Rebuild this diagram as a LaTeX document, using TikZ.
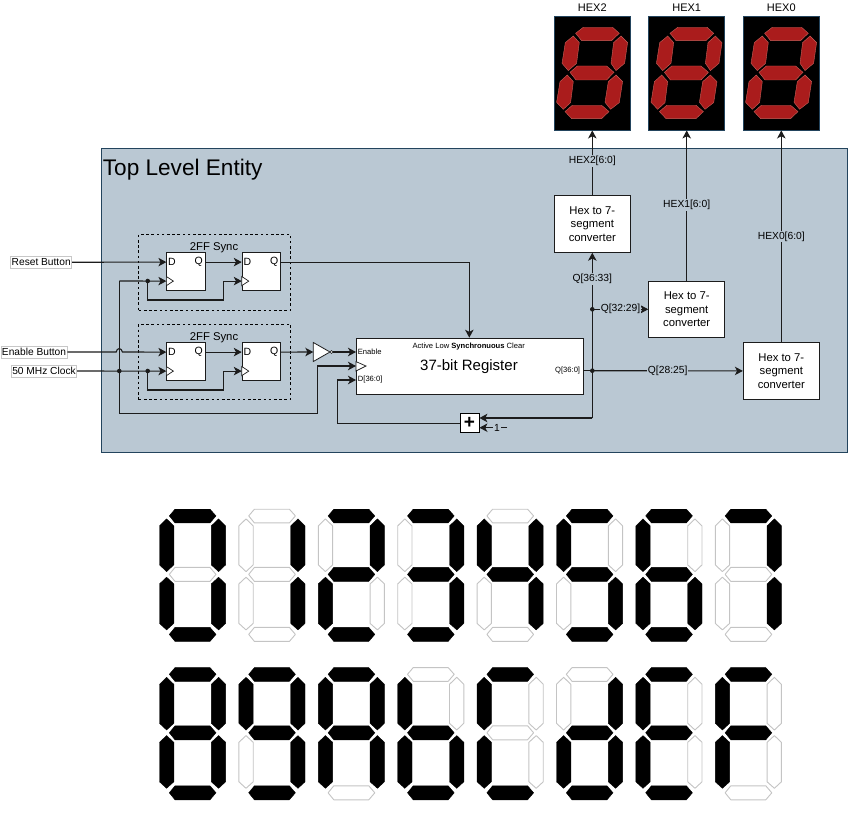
\documentclass[tikz,border=0pt]{standalone}
\usepackage{fontspec}
\setmainfont{Liberation Sans}
\definecolor{panelblue}{HTML}{BAC8D3}
\definecolor{paneledge}{HTML}{23445D}
\definecolor{wirecol}{HTML}{1C1C1C}
\definecolor{ledred}{HTML}{AA1C1C}
\definecolor{ledlight}{HTML}{C8605A}
\definecolor{offgray}{HTML}{C4C4C4}
\usetikzlibrary{arrows.meta, calc, positioning}

\tikzset{
	sig/.style={draw=wirecol, line width=1.1pt, -{Stealth[length=8pt,width=8.5pt,inset=2.2pt]}},
	wire/.style={draw=wirecol, line width=1.1pt},
	dashbox/.style={draw=black, line width=0.8pt, dash pattern=on 2.6pt off 2.6pt},
	ffbox/.style={draw=wirecol, fill=white, line width=0.8pt, minimum width=38.3pt, minimum height=38pt, inner sep=0pt},
	clktri/.style={draw=wirecol, fill=white, line width=0.7pt},
	inputlbl/.style={draw=black!22, fill=white, line width=0.7pt, inner sep=1pt, minimum height=12pt, font=\fontsize{10.2}{12}\selectfont},
	wirelbl/.style={fill=panelblue, inner sep=0.8pt, font=\fontsize{10.3}{12}\selectfont},
	pinlbl/.style={inner sep=0pt, font=\fontsize{7.6}{9}\selectfont},
	conv/.style={draw=wirecol, fill=white, line width=0.9pt, minimum width=76pt, minimum height=56.6pt, inner sep=0pt, align=center, font=\fontsize{11.3}{13.7}\selectfont},
	dispbox/.style={draw=paneledge, fill=black, line width=0.8pt, minimum width=76pt, minimum height=113.7pt, inner sep=0pt},
	seg0/.style={draw=offgray, fill=white, line width=0.9pt, line join=round},
	seg1/.style={fill=black},
	ledseg/.style={draw=ledlight, fill=ledred, line width=0.4pt}
}

% white digit segments, left top of digit at (0,0)
\def\sega{(10,7) -- (15.7,0.3) -- (50.7,0.3) -- (56.7,7) -- (50.7,14) -- (15.7,14) -- cycle}
\def\segb{(59.3,10) -- (66.3,17) -- (66.3,56) -- (59.3,62.7) -- (52,56) -- (52,17) -- cycle}
\def\segc{(59.3,68.3) -- (66.3,75) -- (66.3,114.5) -- (59.3,121) -- (52,114.5) -- (52,75) -- cycle}
\def\segd{(10,125.5) -- (15.7,118.5) -- (50.7,118.5) -- (56.7,125.5) -- (50.7,132.5) -- (15.7,132.5) -- cycle}
\def\sege{(7.3,68.3) -- (14.5,75) -- (14.5,114.5) -- (7.3,121) -- (0.2,114.5) -- (0.2,75) -- cycle}
\def\segf{(7.3,10) -- (14.5,17) -- (14.5,56) -- (7.3,62.7) -- (0.2,56) -- (0.2,17) -- cycle}
\def\segg{(10,65.5) -- (15.7,58.5) -- (50.7,58.5) -- (56.7,65.5) -- (50.7,72.5) -- (15.7,72.5) -- cycle}

\begin{document}
\begin{tikzpicture}[x=1pt, y=-1pt]
	\useasboundingbox (0,0) rectangle (857,813);

	% Panel
	\node[draw=paneledge, fill=panelblue, line width=0.8pt, anchor=north west, minimum width=746.5pt, minimum height=303.2pt, inner sep=0pt] (entity) at (100.5,148.5) {};
	\node[anchor=west, inner sep=0pt, font=\fontsize{22.6}{26}\selectfont] (entitytitle) at (102.7,169.5) {Top Level Entity};

	% Sync blocks
	\foreach \nm/\yy/\ly in {syncrst/234/247.5, syncen/323.5/337.5}
	{
		\node[dashbox, anchor=north west, minimum width=151.7pt, minimum height=75.8pt, inner sep=0pt] (\nm) at (138.3,\yy) {};
		\node[inner sep=0pt, font=\fontsize{11.3}{13}\selectfont] (\nm lbl) at (214,\ly) {2FF Sync};
	}

	% Flip flops
	\foreach \nm/\xx/\yy in {ffa/185.9/271.7, ffb/261.3/271.7, ffc/185.9/361.7, ffd/261.3/361.7}
	{
		\node[ffbox] (\nm) at (\xx,\yy) {};
		\coordinate (\nm d) at ($(\nm.west)+(0,-9.6)$);
		\coordinate (\nm q) at ($(\nm.east)+(0,-9.6)$);
		\coordinate (\nm c) at ($(\nm.west)+(0,9.4)$);
		\draw[clktri] ($(\nm c)+(0,-4.6)$) -- ($(\nm c)+(7,0)$) -- ($(\nm c)+(0,4.6)$) -- cycle;
		\node[anchor=west, inner sep=0pt, font=\fontsize{10.5}{12}\selectfont] (\nm dl) at ($(\nm d)+(1.6,-0.5)$) {D};
		\node[anchor=east, inner sep=0pt, font=\fontsize{10.5}{12}\selectfont] (\nm ql) at ($(\nm q)+(-2.4,-0.5)$) {Q};
	}

	% Register and adder
	\node[draw=wirecol, fill=white, line width=0.9pt, anchor=north west, minimum width=226.7pt, minimum height=56.6pt, inner sep=0pt] (reg) at (356,337.7) {};
	\node[inner sep=0pt, font=\fontsize{15}{18}\selectfont] (regname) at (469,367) {37-bit Register};
	\node[inner sep=0pt, font=\fontsize{7.6}{9}\selectfont] (regclear) at (468.7,346.5) {Active Low \textbf{Synchronuous} Clear};
	\node[pinlbl, anchor=west] (regen) at (357.7,352) {Enable};
	\node[pinlbl, anchor=west] (regd) at (357.7,380) {D[36:0]};
	\node[pinlbl, anchor=east] (regq) at (580.3,371) {Q[36:0]};
	\coordinate (regenpin) at (reg.west |- regen);
	\coordinate (regdpin) at (reg.west |- regd);
	\coordinate (regclkpin) at (356,366);
	\draw[clktri] (356,361.6) -- (366,366) -- (356,371) -- cycle;
	\node[draw=black, fill=white, line width=0.9pt, minimum size=19pt, inner sep=0pt, font=\bfseries\fontsize{19}{19}\selectfont] (adder) at (469.5,423.2) {+};

	% Inverter
	\coordinate (invin) at (313.3,352);
	\draw[clktri, line width=0.8pt] (invin) ++(0,-9.5) -- (330,352) -- (313.3,361.5) -- cycle;
	\node[draw=wirecol, fill=white, circle, inner sep=0pt, minimum size=3pt, line width=0.5pt] (invbub) at (331.4,352) {};

	% Input buttons
	\node[inputlbl] (btnreset) at (41.2,262.3) {Reset Button};
	\node[inputlbl] (btnenable) at (34,352) {Enable Button};
	\node[inputlbl] (btnclock) at (44,371) {50 MHz Clock};

	% Converters and displays
	\foreach \nm/\xx/\yy/\ly in {2/592.3/224/161, 1/686.7/309.3/205, 0/781.3/371/236.7}
	{
		\node[conv] (conv\nm) at (\xx,\yy) {Hex to 7-\\segment\\converter};
		\node[dispbox] (disp\nm) at (\xx,73.2) {};
		\node[inner sep=0pt, font=\fontsize{11}{13}\selectfont] (name\nm) at (\xx,7.5) {HEX\nm};
		\draw[sig] (conv\nm) -- (disp\nm);
		\node[wirelbl] (hexlbl\nm) at (\xx,\ly) {HEX\nm[6:0]};
		\begin{scope}[shift={(\xx-38,16.3)}]
			\path[ledseg] (21.3,17) -- (29,11) -- (58.3,11) -- (65,17) -- (57.3,24.3) -- (27.3,24.3) -- cycle;
			\path[ledseg] (66.7,19.7) -- (73.3,26.3) -- (70.3,47) -- (61.7,54.3) -- (56.7,47) -- (59.3,26.3) -- cycle;
			\path[ledseg] (19,19.7) -- (25,26.3) -- (22.3,47) -- (14,54.3) -- (7.7,47) -- (11,26.3) -- cycle;
			\path[ledseg] (15.7,56) -- (23,49.7) -- (52.3,49.7) -- (59.7,56) -- (52.3,63.7) -- (21.7,63.7) -- cycle;
			\path[ledseg] (13,58.7) -- (19,65.3) -- (16.3,86.3) -- (9,93) -- (2.3,86) -- (5.7,65.3) -- cycle;
			\path[ledseg] (61.7,58.7) -- (68.3,65.3) -- (65,86.3) -- (56.3,93) -- (50.7,86) -- (54,65.3) -- cycle;
			\path[ledseg] (10.7,95.3) -- (18,89) -- (47.3,89) -- (54.7,95.3) -- (47.3,102.3) -- (17.3,102.3) -- cycle;
		\end{scope}
	}

	% Junctions
	\coordinate (jclktop) at (119.3,281);
	\coordinate (jclkmain) at (119.3,371);
	\coordinate (jclkrst) at (147.7,281);
	\coordinate (jclken) at (147.7,371);
	\coordinate (jclkbot) at (119.3,413.3);
	\coordinate (jq) at (592.3,370.7);
	\coordinate (jqmid) at (592.3,309.3);
	\coordinate (jadd) at (592.3,418);

	% Reset path
	\draw[sig] (btnreset) -- (ffad);
	\draw[sig] (ffaq) -- (ffbd);
	\draw[sig] (ffbq) -| (reg.north -| 469.3,0);
	\draw[sig] (jclktop) -- (ffac);
	\draw[sig] (jclkrst) -- (147.7,300) -- (223.3,300) |- (ffbc);

	% Enable path
	\draw[sig] (btnenable) -- (116.2,352) .. controls (116.8,347.5) and (121.6,347.5) .. (122.4,352) -- (ffcd);
	\draw[sig] (ffcq) -- (ffdd);
	\draw[sig] (ffdq) -- (invin);
	\draw[sig] (invbub) -- (regenpin);
	\draw[sig] (btnclock) -- (ffcc);
	\draw[sig] (jclken) -- (147.7,390) -- (223.3,390) |- (ffdc);

	% Clock to register
	\draw[sig] (jclktop) -- (jclkbot) -- (317.7,413.3) |- (regclkpin);

	% Count loop
	\draw[wire] (reg.east |- jq) -- (jq);
	\draw[sig] (jadd) -- (conv2);
	\draw[sig] (jadd) -- (adder.east |- jadd);
	\draw[sig] (adder.west) -- (337.3,423.2) |- (regdpin);
	\coordinate (oneend) at (507,427.7);
	\draw[sig] (oneend) -- (adder.east |- oneend);
	\node[fill=panelblue, inner sep=1pt, font=\fontsize{10.3}{12}\selectfont] (onelbl) at (497,427.7) {1};
	\draw[sig] (jqmid) -- (conv1);
	\draw[sig] (jq) -- (conv0);
	\node[wirelbl] (qlbla) at (592.3,279) {Q[36:33]};
	\node[wirelbl] (qlblb) at (620.5,309.3) {Q[32:29]};
	\node[wirelbl] (qlblc) at (667.7,370.7) {Q[28:25]};

	\foreach \jn in {jclkmain,jclkrst,jclken,jq,jqmid}
		\fill[wirecol] (\jn) circle (2.3);

	% Digit table
	\foreach \rw/\cl/\a/\b/\c/\d/\e/\f/\g in {
		0/0/1/1/1/1/1/1/0, 0/1/0/1/1/0/0/0/0, 0/2/1/1/0/1/1/0/1, 0/3/1/1/1/1/0/0/1,
		0/4/0/1/1/0/0/1/1, 0/5/1/0/1/1/0/1/1, 0/6/1/0/1/1/1/1/1, 0/7/1/1/1/0/0/0/0,
		1/0/1/1/1/1/1/1/1, 1/1/1/1/1/1/0/1/1, 1/2/1/1/1/0/1/1/1, 1/3/0/0/1/1/1/1/1,
		1/4/1/0/0/1/1/1/0, 1/5/0/1/1/1/1/0/1, 1/6/1/0/0/1/1/1/1, 1/7/1/0/0/0/1/1/1}
	{
		\begin{scope}[shift={(159.3+79.4*\cl,508.9+158.4*\rw)}]
			\draw[seg\a] \sega;
			\draw[seg\b] \segb;
			\draw[seg\c] \segc;
			\draw[seg\d] \segd;
			\draw[seg\e] \sege;
			\draw[seg\f] \segf;
			\draw[seg\g] \segg;
		\end{scope}
	}
\end{tikzpicture}
\end{document}
